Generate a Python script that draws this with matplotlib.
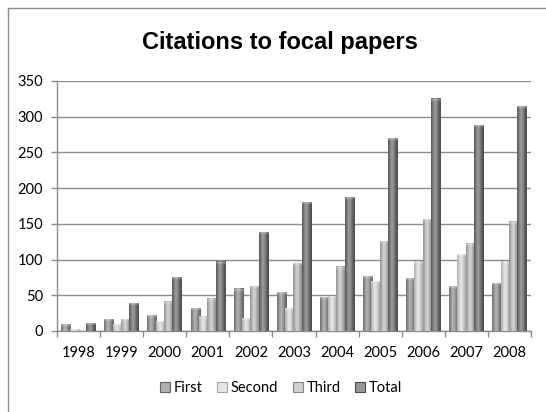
import numpy as np
import matplotlib
matplotlib.use("Agg")
import matplotlib.pyplot as plt
from matplotlib.colors import to_rgb
from matplotlib.patches import Rectangle
from matplotlib.lines import Line2D

# ---- data -------------------------------------------------------------
years = ['1998', '1999', '2000', '2001', '2002', '2003',
         '2004', '2005', '2006', '2007', '2008']
first = [9, 16, 22, 32, 59, 54, 47, 77, 74, 63, 67]
second = [2, 9, 14, 20, 18, 32, 49, 70, 97, 107, 97]
third = [0, 16, 41, 45, 63, 95, 90, 126, 156, 122, 153]
total = [11, 39, 75, 97, 138, 180, 187, 270, 325, 288, 315]
series_names = ['First', 'Second', 'Third', 'Total']
y_ticks = [0, 50, 100, 150, 200, 250, 300, 350]
title = 'Citations to focal papers'

# (edge tone, highlight tone) for each series' shaded fill
shades = [('#626262', '#b0b0b0'),
          ('#a4a4a4', '#e4e4e4'),
          ('#868686', '#d0d0d0'),
          ('#4a4a4a', '#989898')]

W, H = 546, 412
fig = plt.figure(figsize=(W / 100, H / 100), dpi=100)
fig.patch.set_facecolor('white')
ax = fig.add_axes([57 / W, 81 / H, 474 / W, 250 / H])

plt.rcParams['font.family'] = ['Lato', 'DejaVu Sans']
label_font = dict(family=['Lato', 'DejaVu Sans'], size=10.5)


def shaded_profile(dark, light, n=40):
    t = np.linspace(0, 1, n)
    f = np.exp(-((t - 0.42) / 0.33) ** 2)
    d = np.array(to_rgb(dark))
    l = np.array(to_rgb(light))
    return d[None, :] + (l - d)[None, :] * f[:, None]


all_series = [first, second, third, total]
x = np.arange(len(years))
bar_w = 0.22
step = 0.193
offsets = [-0.4 + bar_w / 2 + k * step for k in range(4)]

for k, (vals, (dark, light)) in enumerate(zip(all_series, shades)):
    bars = ax.bar(x + offsets[k], vals, width=bar_w, color='none',
                  edgecolor='none', zorder=3 + k)
    prof = shaded_profile(dark, light)
    for rect in bars:
        x0, w, h = rect.get_x(), rect.get_width(), rect.get_height()
        if h <= 0:
            continue
        ax.imshow(prof[None, :, :], extent=[x0, x0 + w, 0, h],
                  aspect='auto', interpolation='bilinear', zorder=3 + k)
        # rounded bevel highlight on the bar top
        cap = min(4.0, h)
        rows = np.linspace(1, 0, 8)[:, None, None]
        cap_img = prof[None, :, :] + (1 - prof[None, :, :]) * 0.35 * rows
        ax.imshow(np.clip(cap_img, 0, 1), extent=[x0, x0 + w, h - cap, h],
                  aspect='auto', interpolation='bilinear', zorder=3 + k)

ax.set_xlim(-0.5, len(years) - 0.5)
ax.set_ylim(0, 350)

grid_c = '#8c8c8c'
ax.set_yticks(y_ticks)
ax.set_yticklabels([str(v) for v in y_ticks], fontdict=label_font)
ax.yaxis.grid(True, color=grid_c, linewidth=1.0, zorder=0)
ax.set_axisbelow(True)

ax.set_xticks(np.arange(len(years) + 1) - 0.5)
ax.set_xticklabels([])
ax.set_xticks(x, minor=True)
ax.set_xticklabels(years, minor=True, fontdict=label_font)
ax.tick_params(axis='x', which='major', length=4, color=grid_c, width=1)
ax.tick_params(axis='x', which='minor', length=0, pad=11)
ax.tick_params(axis='y', length=4, color=grid_c, width=1, pad=6)

for s in ['top', 'right']:
    ax.spines[s].set_visible(False)
for s in ['left', 'bottom']:
    ax.spines[s].set_color(grid_c)
    ax.spines[s].set_linewidth(1.0)

fig.text(280 / W, 1 - 43 / H, title, ha='center', va='center',
         fontsize=17, fontweight='bold', family='Liberation Sans')

handles = [Rectangle((0, 0), 1, 1, facecolor=light, edgecolor=dark, linewidth=0.8)
           for dark, light in shades]
fig.legend(handles, series_names, loc='center', ncol=4,
           bbox_to_anchor=(281 / W, 1 - 388 / H), frameon=False,
           prop=dict(family=['Lato', 'DejaVu Sans'], size=10.5),
           handlelength=0.7, handleheight=0.7, handletextpad=0.25,
           columnspacing=1.0)

# chart area frame
border_c = '#8c8c8c'
fig.add_artist(Line2D([7.5 / W, 7.5 / W], [0, 1 - 8 / H],
                      transform=fig.transFigure, color=border_c, lw=1))
fig.add_artist(Line2D([7.5 / W, 1], [1 - 8 / H, 1 - 8 / H],
                      transform=fig.transFigure, color=border_c, lw=1))

fig.savefig('out.png', dpi=100)
